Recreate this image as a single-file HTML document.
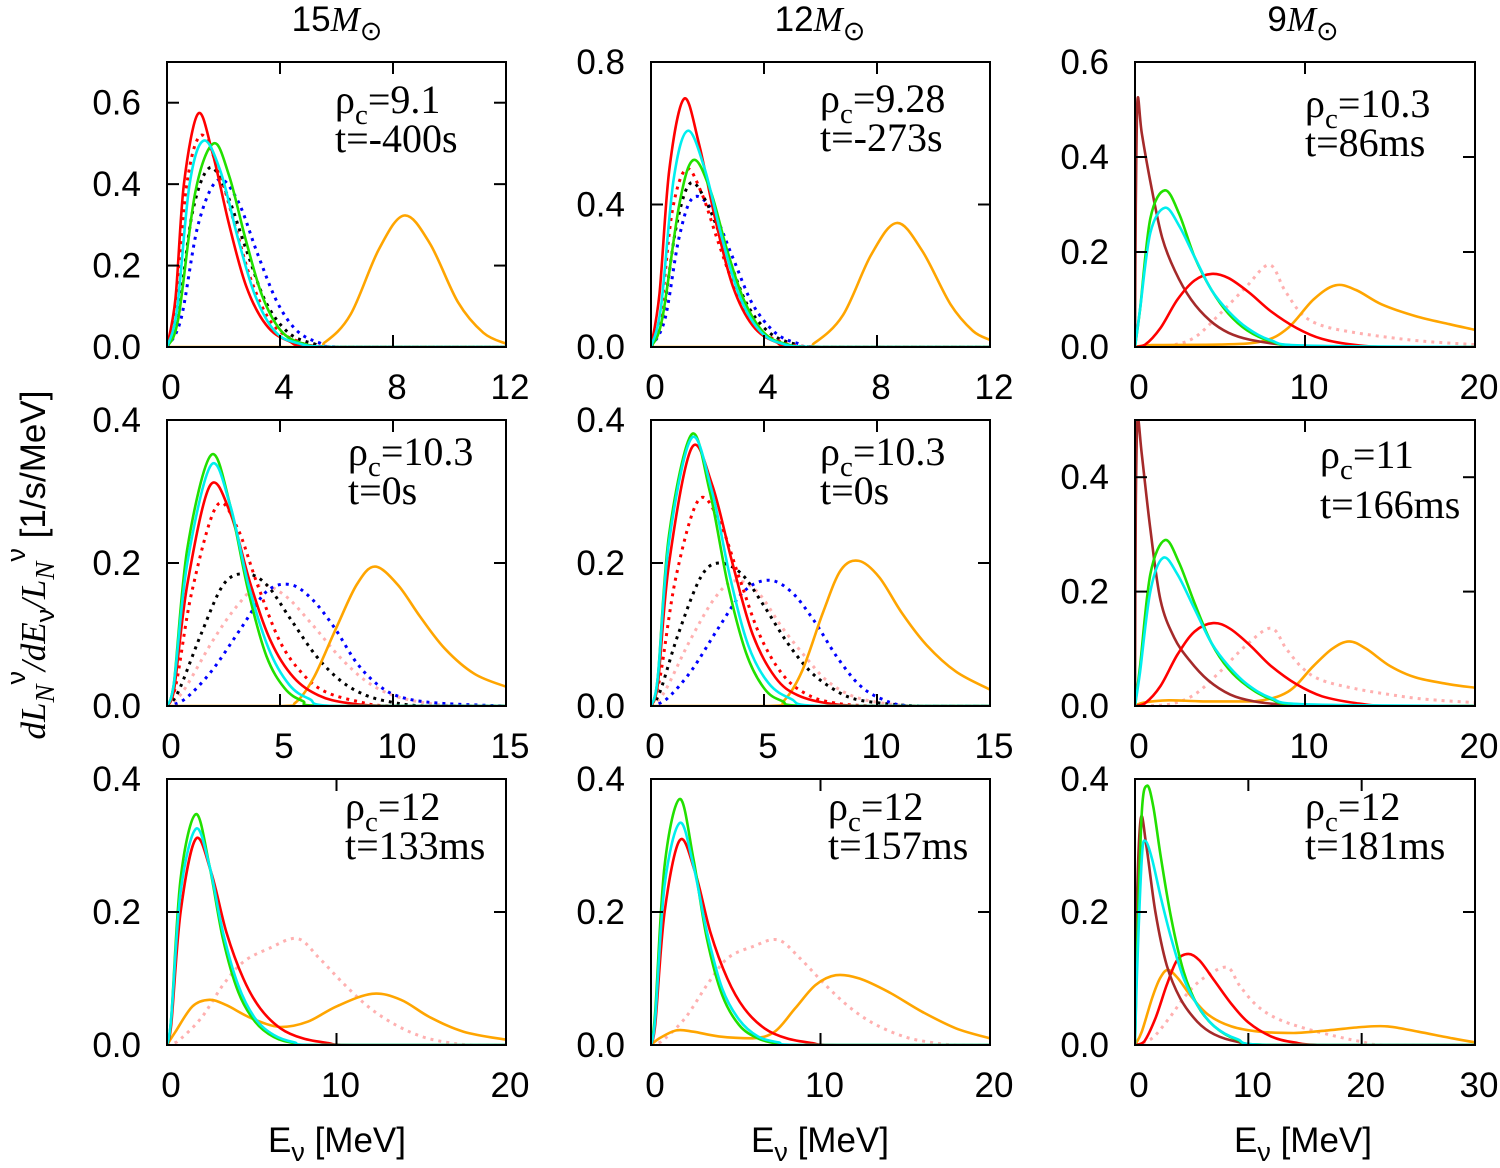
<!DOCTYPE html>
<html><head><meta charset="utf-8"><style>
html,body{margin:0;padding:0;background:#fff;}
svg{display:block;}
.tk{font-family:"Liberation Sans",sans-serif;font-size:35px;fill:#000;}
.an{font-family:"Liberation Serif",serif;font-size:40px;fill:#000;}
</style></head><body>
<svg id="fig" width="1500" height="1168" viewBox="0 0 1500 1168" xmlns="http://www.w3.org/2000/svg">
<text class="tk" x="337" y="31" text-anchor="middle">15<tspan font-family="Liberation Serif" font-style="italic">M</tspan><tspan font-size="27" dy="9">⊙</tspan></text>
<text class="tk" x="820" y="31" text-anchor="middle">12<tspan font-family="Liberation Serif" font-style="italic">M</tspan><tspan font-size="27" dy="9">⊙</tspan></text>
<text class="tk" x="1303" y="31" text-anchor="middle">9<tspan font-family="Liberation Serif" font-style="italic">M</tspan><tspan font-size="27" dy="9">⊙</tspan></text>
<text class="tk" transform="translate(45,565) rotate(-90)" text-anchor="middle"><tspan font-family="Liberation Serif" font-style="italic">dL</tspan><tspan font-family="Liberation Serif" font-style="italic" font-size="27" dy="9">N</tspan><tspan font-size="27" dy="-29">ν</tspan><tspan dy="20" font-family="Liberation Serif" font-style="italic">/dE</tspan><tspan font-size="27" dy="9">ν</tspan><tspan dy="-9" font-family="Liberation Serif" font-style="italic">/L</tspan><tspan font-family="Liberation Serif" font-style="italic" font-size="27" dy="9">N</tspan><tspan font-size="27" dy="-29">ν</tspan><tspan dy="20"> [1/s/MeV]</tspan></text>
<text class="tk" x="337" y="1152" text-anchor="middle">E<tspan font-size="27" dy="9">ν</tspan><tspan dy="-9"> [MeV]</tspan></text>
<text class="tk" x="820" y="1152" text-anchor="middle">E<tspan font-size="27" dy="9">ν</tspan><tspan dy="-9"> [MeV]</tspan></text>
<text class="tk" x="1303" y="1152" text-anchor="middle">E<tspan font-size="27" dy="9">ν</tspan><tspan dy="-9"> [MeV]</tspan></text>
</svg>
<script>
// ---- data (energy MeV, dL/dE/L) ----
const p11_orange=[[0,0],[5,0],[5.6,0.012],[6.5,0.08],[7.5,0.24],[8.4,0.323],[9.3,0.255],[10.3,0.11],[11.2,0.035],[12,0.008]];
const p11_blueDot=[[0,0],[0.5,0.07],[1.1,0.3],[1.8,0.41],[2.5,0.36],[3.2,0.23],[3.9,0.11],[4.6,0.04],[5.4,0.01],[6.2,0],[12,0]];
const p11_blackDot=[[0,0],[0.4,0.08],[0.9,0.33],[1.5,0.44],[2.1,0.38],[2.8,0.24],[3.5,0.11],[4.3,0.035],[5.2,0.008],[6,0],[12,0]];
const p11_redDot=[[0,0],[0.3,0.1],[0.7,0.4],[1.2,0.52],[1.8,0.44],[2.4,0.3],[3,0.16],[3.7,0.06],[4.6,0.015],[6,0],[12,0]];
const p11_red=[[0,0],[0.3,0.12],[0.6,0.4],[1.1,0.573],[1.6,0.48],[2.2,0.3],[2.8,0.15],[3.5,0.055],[4.3,0.015],[5.5,0],[12,0]];
const p11_green=[[0,0],[0.4,0.07],[1,0.38],[1.65,0.5],[2.2,0.42],[2.8,0.26],[3.4,0.12],[4.1,0.035],[5,0.005],[6,0],[12,0]];
const p11_cyan=[[0,0],[0.35,0.09],[0.8,0.4],[1.3,0.507],[1.9,0.43],[2.5,0.27],[3.1,0.13],[3.8,0.04],[4.6,0.01],[6,0],[12,0]];

const p12_orange=[[0,0],[5.2,0],[5.8,0.012],[6.8,0.09],[7.8,0.26],[8.7,0.348],[9.6,0.27],[10.6,0.12],[11.4,0.045],[12,0.02]];
const p12_blueDot=[[0,0],[0.5,0.08],[1,0.31],[1.5,0.42],[2.2,0.38],[2.9,0.25],[3.6,0.12],[4.4,0.04],[5.2,0.01],[6,0],[12,0]];
const p12_blackDot=[[0,0],[0.4,0.08],[0.9,0.34],[1.4,0.46],[2,0.4],[2.7,0.26],[3.4,0.12],[4.2,0.04],[5.1,0.008],[6,0],[12,0]];
const p12_redDot=[[0,0],[0.35,0.1],[0.75,0.38],[1.25,0.5],[1.8,0.43],[2.4,0.29],[3,0.16],[3.7,0.06],[4.6,0.015],[6,0],[12,0]];
const p12_red=[[0,0],[0.3,0.15],[0.65,0.5],[1.17,0.697],[1.7,0.57],[2.3,0.35],[2.9,0.17],[3.6,0.06],[4.4,0.015],[5.5,0],[12,0]];
const p12_green=[[0,0],[0.4,0.08],[1,0.4],[1.5,0.525],[2.1,0.44],[2.7,0.27],[3.3,0.13],[4,0.04],[4.8,0.008],[6,0],[12,0]];
const p12_cyan=[[0,0],[0.35,0.11],[0.8,0.47],[1.3,0.607],[1.9,0.5],[2.5,0.31],[3.1,0.15],[3.8,0.05],[4.6,0.01],[6,0],[12,0]];

const p13_pinkDot=[[0,0],[2,0.003],[3.5,0.02],[5,0.07],[6.5,0.125],[7.9,0.173],[8.8,0.12],[9.8,0.07],[11,0.045],[13,0.03],[15,0.02],[17,0.012],[20,0.005]];
const p13_orange=[[0,0],[1,0.004],[5,0.005],[7.5,0.012],[9,0.04],[10.5,0.1],[11.8,0.13],[13,0.12],[14.5,0.09],[16.5,0.065],[18.5,0.048],[20,0.036]];
const p13_brown=[[0,0],[0.05,0.3],[0.15,0.52],[0.4,0.45],[1,0.33],[1.6,0.23],[2.35,0.16],[3.3,0.1],[4.4,0.056],[5.5,0.03],[6.8,0.015],[9,0.004],[12,0],[20,0]];
const p13_red=[[0,0],[0.6,0.005],[1.5,0.04],[2.5,0.1],[3.5,0.14],[4.5,0.154],[5.5,0.145],[6.7,0.115],[8,0.075],[9.5,0.04],[11,0.017],[13,0.004],[15,0],[20,0]];
const p13_green=[[0,0],[0.3,0.08],[0.9,0.27],[1.76,0.33],[2.6,0.28],[3.5,0.19],[4.5,0.12],[5.5,0.07],[6.6,0.035],[8,0.012],[10,0.002],[20,0]];
const p13_cyan=[[0,0],[0.3,0.08],[0.9,0.24],[1.76,0.293],[2.6,0.255],[3.5,0.19],[4.5,0.12],[5.5,0.075],[6.6,0.04],[8,0.014],[10,0.003],[20,0]];

const p21_pinkDot=[[0,0],[0.7,0.02],[2,0.09],[3.1,0.14],[4.1,0.169],[5.2,0.155],[6.4,0.115],[7.6,0.07],[8.8,0.035],[10,0.015],[11.5,0.004],[13,0],[15,0]];
const p21_blackDot=[[0,0],[0.5,0.02],[1.5,0.1],[2.5,0.17],[3.45,0.185],[4.4,0.17],[5.5,0.12],[6.6,0.07],[7.7,0.035],[8.8,0.015],[10,0.005],[11.5,0],[15,0]];
const p21_blueDot=[[0,0],[0.8,0.01],[2,0.05],[3.3,0.11],[4.4,0.16],[5.44,0.17],[6.4,0.15],[7.4,0.11],[8.4,0.06],[9.4,0.028],[10.4,0.012],[12,0.004],[15,0]];
const p21_redDot=[[0,0],[0.4,0.03],[1.1,0.16],[2.2,0.28],[3.1,0.25],[4,0.17],[5,0.09],[6,0.045],[7,0.02],[8.5,0.006],[10,0],[15,0]];
const p21_orange=[[0,0],[5,0],[5.7,0.005],[6.5,0.04],[7.5,0.11],[8.4,0.17],[9.2,0.195],[10.2,0.17],[11.2,0.125],[12.3,0.08],[13.6,0.045],[15,0.027]];
const p21_red=[[0,0],[0.3,0.02],[0.9,0.17],[1.9,0.308],[2.8,0.27],[3.7,0.17],[4.6,0.09],[5.6,0.04],[6.7,0.015],[8,0.004],[10,0],[15,0]];
const p21_green=[[0,0],[0.3,0.03],[0.9,0.22],[1.95,0.351],[2.8,0.28],[3.6,0.16],[4.4,0.07],[5.2,0.025],[6,0.007],[7,0],[15,0]];
const p21_cyan=[[0,0],[0.3,0.03],[0.9,0.2],[1.95,0.337],[2.8,0.28],[3.6,0.17],[4.5,0.08],[5.4,0.03],[6.3,0.01],[7.5,0],[15,0]];

const p22_pinkDot=[[0,0],[0.6,0.02],[1.7,0.09],[2.8,0.15],[3.7,0.175],[4.7,0.16],[5.8,0.11],[6.8,0.07],[7.8,0.035],[9,0.013],[10.5,0.003],[12,0],[15,0]];
const p22_blackDot=[[0,0],[0.4,0.02],[1.2,0.1],[2.2,0.18],[3,0.2],[4,0.185],[5,0.14],[6,0.09],[7,0.05],[8,0.025],[9,0.01],[10.5,0.003],[12,0],[15,0]];
const p22_blueDot=[[0,0],[0.7,0.01],[1.8,0.05],[3,0.11],[4.1,0.16],[5.2,0.176],[6.2,0.16],[7.2,0.12],[8.2,0.07],[9.2,0.03],[10.2,0.01],[11.5,0],[15,0]];
const p22_redDot=[[0,0],[0.4,0.04],[1.1,0.18],[2.1,0.288],[3,0.26],[3.9,0.18],[4.8,0.1],[5.8,0.045],[6.8,0.018],[8,0.005],[10,0],[15,0]];
const p22_orange=[[0,0],[5.2,0],[5.9,0.008],[6.7,0.05],[7.6,0.13],[8.4,0.19],[9.2,0.203],[10.1,0.18],[11.1,0.13],[12.2,0.085],[13.5,0.048],[15,0.023]];
const p22_red=[[0,0],[0.3,0.03],[0.8,0.2],[1.8,0.361],[2.7,0.31],[3.6,0.2],[4.5,0.1],[5.5,0.04],[6.5,0.015],[8,0.003],[10,0],[15,0]];
const p22_green=[[0,0],[0.3,0.04],[0.8,0.24],[1.8,0.38],[2.6,0.3],[3.4,0.17],[4.2,0.075],[5,0.025],[5.8,0.007],[7,0],[15,0]];
const p22_cyan=[[0,0],[0.3,0.04],[0.8,0.23],[1.8,0.375],[2.7,0.3],[3.5,0.18],[4.3,0.085],[5.2,0.032],[6.2,0.01],[7.5,0],[15,0]];

const p23_pinkDot=[[0,0],[2,0.003],[3.5,0.02],[5,0.06],[6.5,0.105],[8,0.136],[8.9,0.1],[9.9,0.065],[11,0.045],[13,0.03],[15,0.02],[17,0.012],[20,0.006]];
const p23_orange=[[0,0],[0.5,0.006],[2,0.01],[4,0.008],[7,0.008],[9,0.025],[10.5,0.07],[11.6,0.1],[12.6,0.113],[13.6,0.1],[15,0.07],[16.5,0.05],[18.5,0.038],[20,0.032]];
const p23_brown=[[0,0],[0.05,0.35],[0.15,0.5],[0.4,0.44],[0.9,0.31],[1.5,0.185],[2.3,0.12],[3.2,0.08],[4.3,0.045],[5.6,0.02],[7,0.008],[9,0.002],[12,0],[20,0]];
const p23_red=[[0,0],[0.6,0.005],[1.5,0.035],[2.5,0.09],[3.5,0.13],[4.6,0.145],[5.6,0.135],[6.8,0.105],[8,0.07],[9.5,0.038],[11,0.017],[13,0.005],[15,0],[20,0]];
const p23_green=[[0,0],[0.3,0.07],[0.9,0.23],[1.76,0.29],[2.6,0.25],[3.5,0.18],[4.5,0.11],[5.5,0.065],[6.6,0.035],[8,0.012],[10,0.002],[20,0]];
const p23_cyan=[[0,0],[0.3,0.06],[0.9,0.2],[1.65,0.259],[2.5,0.23],[3.5,0.17],[4.5,0.11],[5.5,0.07],[6.6,0.038],[8,0.014],[10,0.003],[20,0]];

const p31_pinkDot=[[0,0],[0.6,0.005],[2,0.04],[3.3,0.09],[4.5,0.125],[6,0.145],[7.7,0.16],[9,0.13],[10.5,0.09],[12,0.055],[13.5,0.03],[15,0.013],[16.5,0.004],[18,0],[20,0]];
const p31_orange=[[0,0],[0.5,0.02],[1.5,0.058],[2.5,0.068],[3.5,0.06],[5,0.04],[6.7,0.027],[8.3,0.035],[10,0.058],[12.1,0.077],[13.8,0.068],[15.5,0.042],[17.5,0.02],[20,0.008]];
const p31_red=[[0,0],[0.25,0.03],[0.8,0.2],[1.7,0.31],[2.6,0.26],[3.5,0.17],[4.5,0.1],[5.5,0.055],[6.7,0.025],[8,0.01],[9.5,0.003],[11,0],[20,0]];
const p31_green=[[0,0],[0.25,0.04],[0.8,0.25],[1.7,0.347],[2.5,0.27],[3.3,0.16],[4.2,0.08],[5.2,0.035],[6.3,0.012],[7.5,0.003],[9,0],[20,0]];
const p31_cyan=[[0,0],[0.25,0.04],[0.8,0.23],[1.7,0.325],[2.5,0.27],[3.3,0.17],[4.2,0.09],[5.2,0.04],[6.3,0.015],[7.5,0.004],[9,0],[20,0]];

const p32_pinkDot=[[0,0],[0.6,0.005],[2,0.04],[3.3,0.09],[4.5,0.13],[6,0.148],[7.5,0.158],[8.8,0.13],[10.3,0.09],[11.8,0.055],[13.3,0.03],[15,0.012],[16.5,0.004],[18,0],[20,0]];
const p32_orange=[[0,0],[0.5,0.01],[1.5,0.022],[2.5,0.02],[4,0.013],[6,0.01],[7.3,0.02],[8.5,0.055],[9.7,0.09],[10.9,0.105],[12.3,0.1],[14,0.08],[16,0.05],[18,0.025],[20,0.01]];
const p32_red=[[0,0],[0.25,0.03],[0.8,0.2],[1.7,0.308],[2.6,0.26],[3.5,0.17],[4.5,0.1],[5.5,0.055],[6.7,0.025],[8,0.01],[9.5,0.003],[11,0],[20,0]];
const p32_green=[[0,0],[0.25,0.05],[0.8,0.27],[1.7,0.37],[2.5,0.28],[3.3,0.16],[4.2,0.075],[5.2,0.03],[6.3,0.01],[7.5,0.002],[9,0],[20,0]];
const p32_cyan=[[0,0],[0.25,0.04],[0.8,0.24],[1.7,0.334],[2.5,0.27],[3.3,0.17],[4.2,0.085],[5.2,0.038],[6.3,0.013],[7.5,0.004],[9,0],[20,0]];

const p33_pinkDot=[[0,0],[1.5,0.01],[3,0.04],[4.5,0.075],[6,0.1],[8.1,0.117],[9.2,0.09],[10.7,0.06],[12.5,0.04],[15,0.025],[18,0.012],[20,0.005],[22,0],[30,0]];
const p33_orange=[[0,0],[0.6,0.02],[1.5,0.07],[2.2,0.1],[2.9,0.113],[3.8,0.1],[5,0.072],[6.5,0.045],[8.5,0.028],[11,0.02],[14,0.018],[17,0.022],[20,0.027],[22.3,0.028],[25,0.02],[28,0.01],[30,0.004]];
const p33_brown=[[0,0],[0.15,0.2],[0.5,0.34],[1,0.3],[1.8,0.2],[2.8,0.12],[4,0.07],[5.5,0.035],[7,0.016],[9,0.005],[12,0],[30,0]];
const p33_red=[[0,0],[0.8,0.005],[1.8,0.04],[2.8,0.09],[3.7,0.127],[4.7,0.137],[5.7,0.127],[7,0.097],[8.5,0.062],[10,0.034],[12,0.013],[14,0.004],[17,0],[30,0]];
const p33_green=[[0,0],[0.2,0.15],[0.6,0.35],[1.06,0.39],[1.6,0.36],[2.3,0.28],[3.2,0.19],[4.3,0.11],[5.5,0.06],[7,0.028],[9,0.008],[12,0],[30,0]];
const p33_cyan=[[0,0],[0.2,0.12],[0.6,0.28],[0.9,0.307],[1.5,0.28],[2.3,0.22],[3.2,0.16],[4.3,0.1],[5.5,0.06],[7,0.028],[9,0.009],[12,0],[30,0]];

const xt1=[0,4,8,12], xt2=[0,5,10,15], xt3=[0,10,20], xt4=[0,10,20,30];
const yt1=[0,0.2,0.4,0.6], yt2=[0,0.4,0.8], yt3=[0,0.2,0.4];

// ---- styling ----
const STY={red:['#ff0000',null],redDot:['#ff0000','3,5'],cyan:['#00eeee',null],green:['#22e000',null],
 orange:['#ffa500',null],blueDot:['#0000ff','3,5'],blackDot:['#000000','3,5'],pinkDot:['#ffb0b0','3,5'],brown:['#a52a2a',null]};

const panels=[
 {id:'p11',L:167,R:506,T:62,B:347,xmax:12,ymax:0.7,xt:xt1,yt:yt1,s:{orange:p11_orange,blueDot:p11_blueDot,blackDot:p11_blackDot,redDot:p11_redDot,red:p11_red,green:p11_green,cyan:p11_cyan},a:['9.1','t=-400s'],ax:335,ay:113},
 {id:'p12',L:651,R:990,T:62,B:347,xmax:12,ymax:0.8,xt:xt1,yt:yt2,s:{orange:p12_orange,blueDot:p12_blueDot,blackDot:p12_blackDot,redDot:p12_redDot,red:p12_red,green:p12_green,cyan:p12_cyan},a:['9.28','t=-273s'],ax:820,ay:112},
 {id:'p13',L:1135,R:1475,T:62,B:347,xmax:20,ymax:0.6,xt:xt3,yt:yt1,s:{pinkDot:p13_pinkDot,orange:p13_orange,brown:p13_brown,red:p13_red,green:p13_green,cyan:p13_cyan},a:['10.3','t=86ms'],ax:1305,ay:117},
 {id:'p21',L:167,R:506,T:420,B:706,xmax:15,ymax:0.4,xt:xt2,yt:yt3,s:{pinkDot:p21_pinkDot,blackDot:p21_blackDot,blueDot:p21_blueDot,redDot:p21_redDot,orange:p21_orange,red:p21_red,green:p21_green,cyan:p21_cyan},a:['10.3','t=0s'],ax:348,ay:465},
 {id:'p22',L:651,R:990,T:420,B:706,xmax:15,ymax:0.4,xt:xt2,yt:yt3,s:{pinkDot:p22_pinkDot,blackDot:p22_blackDot,blueDot:p22_blueDot,redDot:p22_redDot,orange:p22_orange,red:p22_red,green:p22_green,cyan:p22_cyan},a:['10.3','t=0s'],ax:820,ay:465},
 {id:'p23',L:1135,R:1475,T:420,B:706,xmax:20,ymax:0.5,xt:xt3,yt:yt3,s:{pinkDot:p23_pinkDot,orange:p23_orange,brown:p23_brown,red:p23_red,green:p23_green,cyan:p23_cyan},a:['11','t=166ms'],ax:1320,ay:468,ax2:1320,ay2:518},
 {id:'p31',L:167,R:506,T:779,B:1045,xmax:20,ymax:0.4,xt:xt3,yt:yt3,s:{pinkDot:p31_pinkDot,orange:p31_orange,red:p31_red,green:p31_green,cyan:p31_cyan},a:['12','t=133ms'],ax:345,ay:820},
 {id:'p32',L:651,R:990,T:779,B:1045,xmax:20,ymax:0.4,xt:xt3,yt:yt3,s:{pinkDot:p32_pinkDot,orange:p32_orange,red:p32_red,green:p32_green,cyan:p32_cyan},a:['12','t=157ms'],ax:828,ay:820},
 {id:'p33',L:1135,R:1475,T:779,B:1045,xmax:30,ymax:0.4,xt:xt4,yt:yt3,s:{pinkDot:p33_pinkDot,orange:p33_orange,red:p33_red,brown:p33_brown,green:p33_green,cyan:p33_cyan},a:['12','t=181ms'],ax:1305,ay:820}
];

const NS='http://www.w3.org/2000/svg';
const svg=document.getElementById('fig');
function mk(tag,attrs,parent){const e=document.createElementNS(NS,tag);for(const k in attrs)e.setAttribute(k,attrs[k]);(parent||svg).appendChild(e);return e;}
function fmtY(v){return v.toFixed(1);}
function pathFrom(pts){
 let d='M'+pts[0][0].toFixed(1)+','+pts[0][1].toFixed(1);
 for(let i=0;i<pts.length-1;i++){
  const p0=pts[Math.max(i-1,0)],p1=pts[i],p2=pts[i+1],p3=pts[Math.min(i+2,pts.length-1)];
  const c1x=p1[0]+(p2[0]-p0[0])/6,c1y=p1[1]+(p2[1]-p0[1])/6;
  const c2x=p2[0]-(p3[0]-p1[0])/6,c2y=p2[1]-(p3[1]-p1[1])/6;
  d+=' C'+c1x.toFixed(1)+','+Math.min(c1y,Math.max(p1[1],p2[1])).toFixed(1)+' '+c2x.toFixed(1)+','+Math.min(c2y,Math.max(p1[1],p2[1])).toFixed(1)+' '+p2[0].toFixed(1)+','+p2[1].toFixed(1);
 }
 return d;
}
panels.forEach(p=>{
 const g=mk('g',{});
 
 
 const xs=v=>p.L+(v/p.xmax)*(p.R-p.L);
 const ys=v=>p.B-(v/p.ymax)*(p.B-p.T);
 const cp=mk('clipPath',{id:'c'+p.id},g);
 mk('rect',{x:p.L,y:p.T,width:p.R-p.L,height:p.B-p.T},cp);
 const sg=mk('g',{'clip-path':'url(#c'+p.id+')'},g);
 for(const key in p.s){
  const pts=p.s[key].map(q=>[xs(q[0]),ys(q[1])]);
  const st=STY[key];
  const path=mk('path',{d:pathFrom(pts),fill:'none',stroke:st[0],'stroke-width':st[1]?3:2.6,'stroke-linejoin':'round'},sg);
  if(st[1])path.setAttribute('stroke-dasharray',st[1]);
  
  
 }
 const fr=mk('rect',{x:p.L,y:p.T,width:p.R-p.L,height:p.B-p.T,fill:'none',stroke:'#000','stroke-width':2},g);
 
 
 p.xt.forEach(v=>{
  const x=xs(v);
  mk('line',{x1:x,y1:p.B,x2:x,y2:p.B-12,stroke:'#000','stroke-width':2},g);
  mk('line',{x1:x,y1:p.T,x2:x,y2:p.T+12,stroke:'#000','stroke-width':2},g);
  const t=mk('text',{x:x+4,y:p.B+52,'text-anchor':'middle',class:'tk'},g);
  t.textContent=String(v);
  
  
 });
 p.yt.forEach(v=>{
  const y=ys(v);
  mk('line',{x1:p.L,y1:y,x2:p.L+12,y2:y,stroke:'#000','stroke-width':2},g);
  mk('line',{x1:p.R,y1:y,x2:p.R-12,y2:y,stroke:'#000','stroke-width':2},g);
  const t=mk('text',{x:p.L-26,y:y+12,'text-anchor':'end',class:'tk'},g);
  t.textContent=fmtY(v);
  
  
 });
 const a1=mk('text',{x:p.ax,y:p.ay,class:'an'},g);
 a1.innerHTML='ρ<tspan font-size="29" dy="11">c</tspan><tspan dy="-11">='+p.a[0]+'</tspan>';
 
 
 const a2=mk('text',{x:p.ax2||p.ax,y:p.ay2||(p.ay+39),class:'an'},g);
 a2.textContent=p.a[1];
 
 
});
</script>
</body></html>
